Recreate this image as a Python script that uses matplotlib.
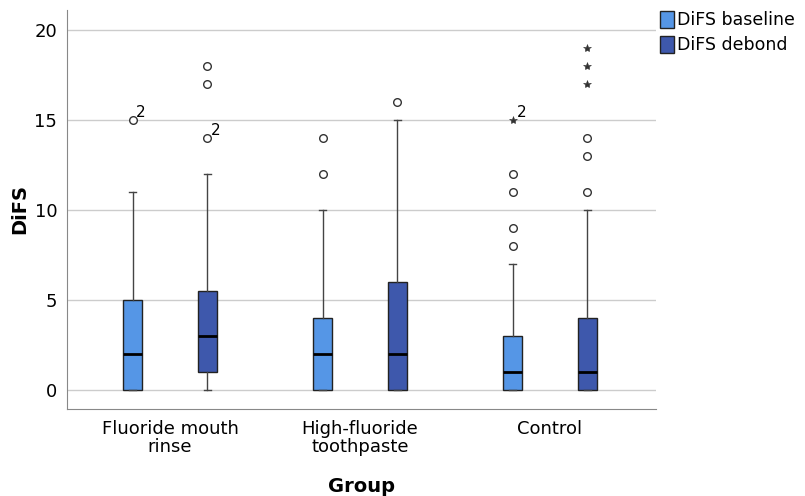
import matplotlib.pyplot as plt

groups = ['Fluoride mouth\nrinse', 'High-fluoride\ntoothpaste', 'Control']
series = ['DiFS baseline', 'DiFS debond']
colors = ['#5596E6', '#3E58AC']

# box stats per series, per group: (whislo, q1, med, q3, whishi)
base_stats = [(0, 0, 2, 5, 11), (0, 0, 2, 4, 10), (0, 0, 1, 3, 7)]
deb_stats = [(0, 1, 3, 5.5, 12), (0, 0, 2, 6, 15), (0, 0, 1, 4, 10)]
# outliers (circles) and extremes (stars)
base_out = [[15], [12, 14], [8, 9, 11, 12]]
deb_out = [[14, 17, 18], [16], [11, 13, 14]]
base_ext = [[], [], [15]]
deb_ext = [[], [], [17, 18, 19]]
# case-count labels: (series, group, value, text)
count_labels = [(0, 0, 15, '2'), (1, 0, 14, '2'), (0, 2, 15, '2')]

fig = plt.figure(figsize=(8.05, 4.96), dpi=100)
ax = fig.add_axes([0.0832, 0.1754, 0.7318, 0.8046])

offs = [-0.197, 0.197]
width = 0.097
for s, (stats, outs, exts) in enumerate([(base_stats, base_out, base_ext),
                                         (deb_stats, deb_out, deb_ext)]):
    bx = []
    for lo, q1, med, q3, hi in stats:
        bx.append(dict(whislo=lo, q1=q1, med=med, q3=q3, whishi=hi, fliers=[]))
    pos = [g + offs[s] for g in range(len(groups))]
    ax.bxp(bx, positions=pos, widths=width, patch_artist=True, showfliers=False,
           boxprops=dict(facecolor=colors[s], edgecolor='#222222', linewidth=1),
           medianprops=dict(color='black', linewidth=2),
           whiskerprops=dict(color='#444444', linewidth=1),
           capprops=dict(color='#444444', linewidth=1), capwidths=0.04, zorder=3)
    for g in range(len(groups)):
        ax.plot([pos[g]] * len(outs[g]), outs[g], 'o', mfc='white', mec='#333333',
                ms=5.5, mew=1, zorder=4, clip_on=False)
        ax.plot([pos[g]] * len(exts[g]), exts[g], '*', color='#333333',
                ms=6, mew=0.4, zorder=4, clip_on=False)

for s, g, v, t in count_labels:
    ax.text(g + offs[s] + 0.02, v, t, fontsize=11, ha='left', va='bottom')

ax.set_xlim(-0.542, 2.558)
ax.set_ylim(-1.05, 21.1)
ax.set_yticks([0, 5, 10, 15, 20])
ax.set_xticks(range(len(groups)))
ax.set_xticklabels(groups, fontsize=13, linespacing=0.98)
ax.tick_params(axis='x', length=0, pad=8)
ax.tick_params(axis='y', labelsize=13, length=0, pad=7)
ax.grid(axis='y', color='#cccccc', linewidth=1, zorder=0)
ax.set_axisbelow(True)
for sp in ['top', 'right']:
    ax.spines[sp].set_visible(False)
for sp in ['left', 'bottom']:
    ax.spines[sp].set_color('#888888')
ax.set_ylabel('DiFS', fontsize=14, fontweight='bold', labelpad=4)
ax.set_xlabel('Group', fontsize=14, fontweight='bold', labelpad=15)

handles = [plt.Rectangle((0, 0), 1, 1, facecolor=c, edgecolor='#222222') for c in colors]
ax.legend(handles, series, loc='upper left', bbox_to_anchor=(1.006, 0.997),
          frameon=False, fontsize=12.5, handlelength=0.85, handleheight=1.1,
          handletextpad=0.15, labelspacing=0.38, borderaxespad=0, borderpad=0)

fig.savefig('out.png', dpi=100)
